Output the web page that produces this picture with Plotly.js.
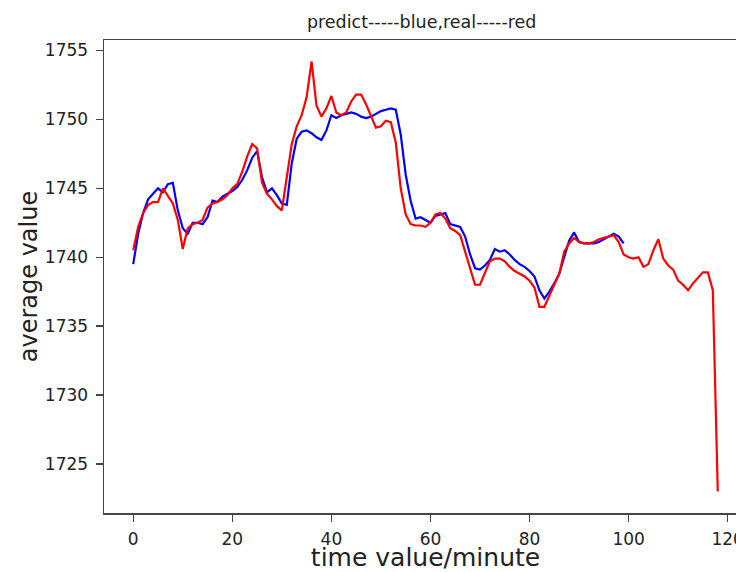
<!DOCTYPE html>
<html>
<head>
<meta charset="utf-8">
<script src="https://cdn.plot.ly/plotly-3.0.1.min.js"></script>
<style>
html,body{margin:0;padding:0;background:#fff;overflow:hidden;width:736px;height:572px;}
#chart{width:760px;height:572px;}
</style>
</head>
<body>
<div id="chart"></div>
<script>
// predicted (blue), minutes 0..99
const predictValues = [
  1739.5, 1741.7, 1743.2, 1744.2, 1744.6, 1745.0, 1744.7, 1745.3, 1745.4, 1743.4,
  1742.1, 1741.7, 1742.5, 1742.5, 1742.4, 1742.9, 1744.1, 1744.0, 1744.4, 1744.6,
  1744.8, 1745.1, 1745.6, 1746.3, 1747.2, 1747.7, 1745.8, 1744.7, 1745.0, 1744.5,
  1743.9, 1743.8, 1746.8, 1748.6, 1749.1, 1749.2, 1749.0, 1748.7, 1748.5, 1749.2,
  1750.3, 1750.1, 1750.3, 1750.4, 1750.5, 1750.4, 1750.2, 1750.1, 1750.2, 1750.4,
  1750.6, 1750.7, 1750.8, 1750.7, 1748.9, 1746.0, 1744.1, 1742.8, 1742.9, 1742.7,
  1742.5, 1743.0, 1743.1, 1743.2, 1742.4, 1742.3, 1742.2, 1741.5, 1740.2, 1739.2,
  1739.1, 1739.4, 1739.8, 1740.6, 1740.4, 1740.5, 1740.2, 1739.8, 1739.5, 1739.3,
  1739.0, 1738.6, 1737.6, 1737.0, 1737.5, 1738.1, 1738.8, 1740.0, 1741.2, 1741.8,
  1741.1, 1741.0, 1741.0, 1741.0, 1741.1, 1741.3, 1741.5, 1741.7, 1741.5, 1741.0
];
// real (red), minutes 0..118
const realValues = [
  1740.5, 1742.2, 1743.2, 1743.8, 1744.0, 1744.0, 1745.0, 1744.4, 1743.9, 1742.7,
  1740.6, 1742.1, 1742.4, 1742.5, 1742.7, 1743.6, 1743.9, 1744.0, 1744.2, 1744.5,
  1745.0, 1745.3, 1746.2, 1747.3, 1748.2, 1747.9, 1745.4, 1744.6, 1744.2, 1743.7,
  1743.4, 1745.8, 1748.2, 1749.5, 1750.3, 1751.6, 1754.2, 1751.0, 1750.2, 1750.8,
  1751.7, 1750.5, 1750.3, 1750.5, 1751.3, 1751.8, 1751.8, 1751.1, 1750.2, 1749.4,
  1749.5, 1749.9, 1749.8, 1748.3, 1745.0, 1743.1, 1742.4, 1742.3, 1742.3, 1742.2,
  1742.5, 1743.1, 1743.2, 1742.8, 1742.1, 1741.9, 1741.6, 1740.4, 1739.1, 1738.0,
  1738.0, 1738.9, 1739.7, 1739.9, 1739.9, 1739.7, 1739.3, 1739.0, 1738.8, 1738.6,
  1738.3, 1737.8, 1736.4, 1736.4, 1737.2, 1738.0, 1738.8, 1740.4, 1741.0, 1741.4,
  1741.1, 1741.0, 1741.0, 1741.1, 1741.3, 1741.4, 1741.5, 1741.6, 1741.1, 1740.2,
  1740.0, 1739.9, 1740.0, 1739.3, 1739.5, 1740.5, 1741.3, 1739.9, 1739.4, 1739.1,
  1738.3, 1738.0, 1737.6, 1738.1, 1738.5, 1738.9, 1738.9, 1737.6, 1723.0
];
const xTicks = [0, 20, 40, 60, 80, 100, 120];
const yTicks = [1725, 1730, 1735, 1740, 1745, 1750, 1755];

const predictMinutes = predictValues.map((_, i) => i);
const realMinutes = realValues.map((_, i) => i);

const font = "DejaVu Sans, sans-serif";

const traces = [
  {x: predictMinutes, y: predictValues, type: 'scatter', mode: 'lines',
   line: {color: '#0000ff', width: 2.2}, name: 'predict'},
  {x: realMinutes, y: realValues, type: 'scatter', mode: 'lines',
   line: {color: '#ff0000', width: 2.2}, name: 'real'}
];

const layout = {
  width: 760, height: 572,
  margin: {l: 104, r: 13, t: 40, b: 59},
  paper_bgcolor: '#fff', plot_bgcolor: '#fff',
  showlegend: false,
  font: {family: font, color: '#222'},
  title: {text: 'predict-----blue,real-----red', font: {family: font, size: 17.5, color: '#222'},
          x: 0.494, xref: 'paper', xanchor: 'center', y: 1 - 22/572, yref: 'container', yanchor: 'middle'},
  xaxis: {
    range: [-5.9, 123.9], tickvals: xTicks, ticktext: xTicks.map(String),
    showgrid: false, zeroline: false, showline: true, mirror: true,
    linecolor: '#444', linewidth: 1.5,
    ticks: 'outside', ticklen: 7, tickwidth: 1.3, tickcolor: '#444',
    tickfont: {family: font, size: 17, color: '#222'},
    ticklabelstandoff: 3,
    title: {text: 'time value/minute', font: {family: font, size: 25, color: '#222'}, standoff: 12}
  },
  yaxis: {
    range: [1721.44, 1755.76], tickvals: yTicks, ticktext: yTicks.map(String),
    showgrid: false, zeroline: false, showline: true, mirror: true,
    linecolor: '#444', linewidth: 1.5,
    ticks: 'outside', ticklen: 7, tickwidth: 1.3, tickcolor: '#444',
    tickfont: {family: font, size: 17, color: '#222'},
    ticklabelstandoff: 4,
    title: {text: 'average value', font: {family: font, size: 24, color: '#222'}, standoff: 0}
  }
};

Plotly.newPlot('chart', traces, layout, {staticPlot: true, displayModeBar: false});
</script>
</body>
</html>
